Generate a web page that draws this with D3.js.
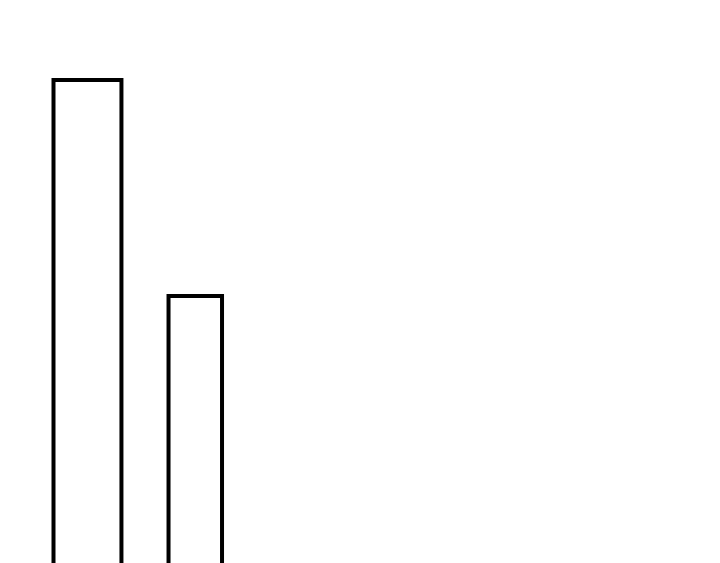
<!DOCTYPE html>
<html>
<head>
<meta charset="utf-8">
<script src="https://cdn.jsdelivr.net/npm/d3@7"></script>
<style>
  html, body { margin: 0; padding: 0; background: #fff; overflow: hidden; }
</style>
</head>
<body>
<svg id="chart"></svg>
<script>
// bar data
const categories = ['A', 'B'];
const values = [100, 60];
const weights = [1.27, 1];   // relative bar widths

(function() {
  const W = 720, H = 563;
  const svg = d3.select('#chart').attr('width', W).attr('height', H);

  const gap = 0.88;
  let acc = 0;
  const bars = categories.map((c, i) => {
    const b = {cat: c, v: values[i], x0: acc, x1: acc + weights[i]};
    acc += weights[i] + gap;
    return b;
  });

  // baseline sits below the visible area, so bars run off the bottom
  const x = d3.scaleLinear().domain([0, 1]).range([53.5, 107]);
  const y = d3.scaleLinear().domain([0, 100]).range([620, 80]);

  svg.selectAll('rect.bar')
    .data(bars)
    .enter().append('rect')
    .attr('class', 'bar')
    .attr('x', d => x(d.x0))
    .attr('width', d => x(d.x1) - x(d.x0))
    .attr('y', d => y(d.v))
    .attr('height', d => y(0) - y(d.v))
    .attr('fill', '#fff')
    .attr('stroke', '#000')
    .attr('stroke-width', 4);
})();
</script>
</body>
</html>
